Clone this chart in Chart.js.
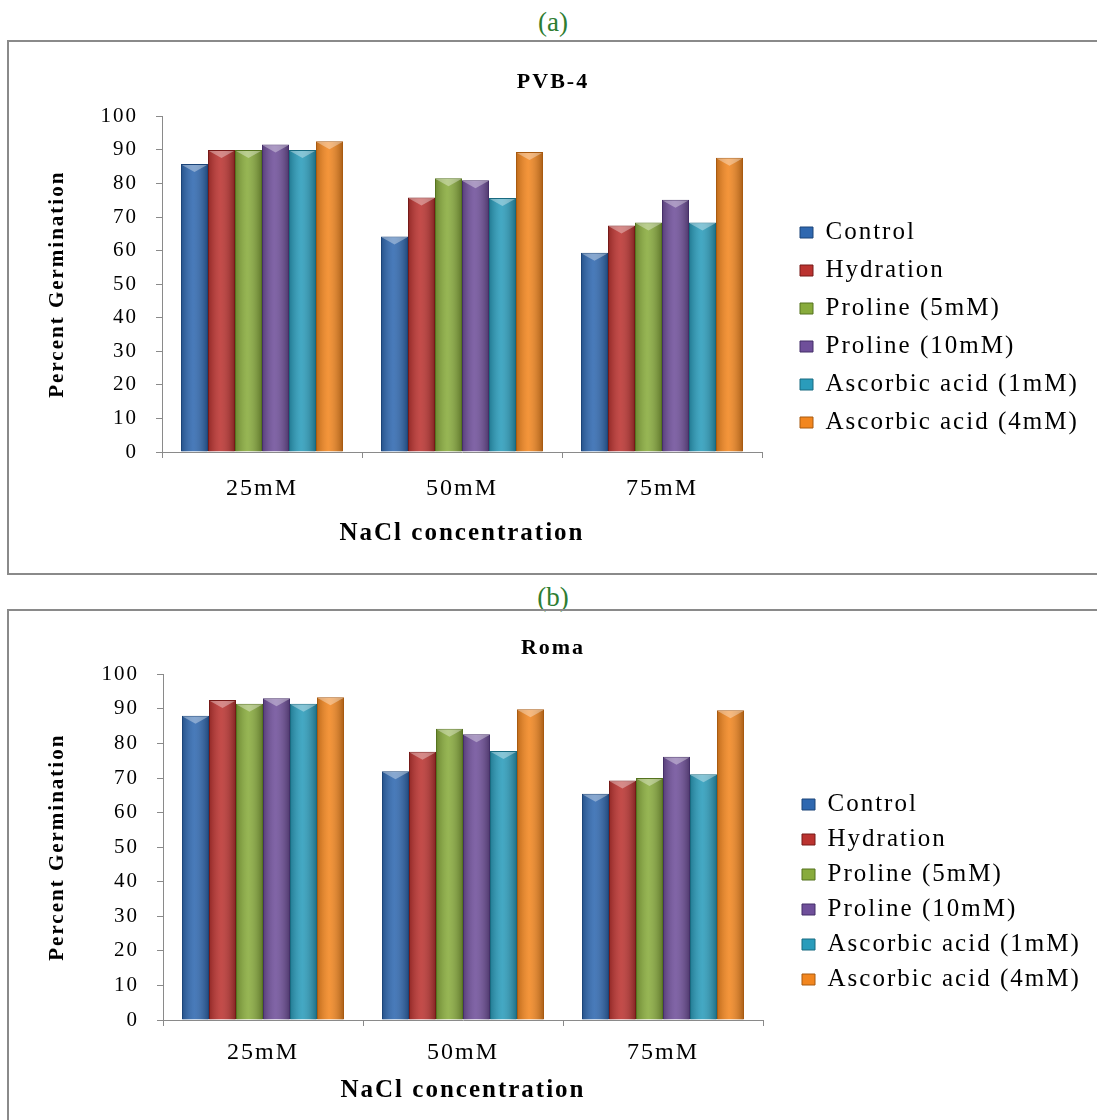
<!DOCTYPE html>
<html>
<head>
<meta charset="utf-8">
<script src="https://cdn.jsdelivr.net/npm/chart.js@4.4.1/dist/chart.umd.min.js"></script>
<style>
  html, body { margin: 0; padding: 0; background: #fff; overflow: hidden; }
  body { width: 1097px; height: 1120px; position: relative; font-family: 'Liberation Serif', serif; }
  .tag { position: absolute; left: 0; width: 1106px; text-align: center; color: #2e7d32; font-size: 27px; line-height: 30px; }
  .box { position: absolute; left: 7px; width: 1100px; border: 2px solid #8a8a8a; }
  .box canvas { display: block; }
</style>
</head>
<body>
<div class="tag" style="top:7px">(a)</div>
<div class="box" style="top:40px;height:531px"><canvas id="chartA" width="1088" height="531"></canvas></div>
<div class="tag" style="top:582px">(b)</div>
<div class="box" style="top:609px;height:540px"><canvas id="chartB" width="1088" height="540"></canvas></div>

<script>
// data
const categories = ['25mM', '50mM', '75mM'];
const treatments = ['Control', 'Hydration', 'Proline (5mM)', 'Proline (10mM)', 'Ascorbic acid (1mM)', 'Ascorbic acid (4mM)'];

// one row per treatment, one value per NaCl level
const pvb4Values = [
  [85.8, 64.2, 59.4],
  [90.0, 75.8, 67.5],
  [90.0, 81.6, 68.4],
  [91.6, 81.0, 75.2],
  [90.0, 75.7, 68.4],
  [92.6, 89.4, 87.7]
];
const romaValues = [
  [88.0, 72.0, 65.5],
  [92.6, 77.6, 69.3],
  [91.5, 84.3, 70.0],
  [93.1, 82.7, 76.2],
  [91.5, 77.8, 71.1],
  [93.4, 89.9, 89.6]
];

const yMin = 0, yMax = 100, yStep = 10;

const fillColors = ['#2f68b0', '#bb3330', '#88ab3c', '#6f4f9a', '#2a9cbb', '#f2861f'];
const edgeColors = ['#1c4478', '#761a18', '#55731f', '#452f68', '#186a80', '#a85a10'];

const serif = "'Liberation Serif', 'Times New Roman', serif";

// wider text spacing like the original picture
const spacing = {
  id: 'spacing',
  beforeLayout(chart) { chart.ctx.letterSpacing = '2px'; },
  beforeDraw(chart) { chart.ctx.letterSpacing = '2px'; }
};

// legend: fixed width and position
const legendPlace = {
  id: 'legendPlace',
  beforeLayout(chart, args, opts) {
    const lg = chart.legend;
    if (lg && !lg._fixed) {
      const fit = lg.fit.bind(lg);
      lg.fit = function () { fit(); this.width = opts.width; };
      lg._fixed = true;
    }
  },
  afterLayout(chart, args, opts) {
    chart.legend.left = opts.left;
    chart.legend.top = opts.top;
  }
};

// soft shading and a light bevel on top of each bar
const barShade = {
  id: 'barShade',
  afterDatasetsDraw(chart) {
    const ctx = chart.ctx;
    chart.data.datasets.forEach((ds, i) => {
      chart.getDatasetMeta(i).data.forEach(bar => {
        const { x, y, base, width } = bar.getProps(['x', 'y', 'base', 'width'], true);
        const left = x - width / 2;
        const g = ctx.createLinearGradient(left, 0, left + width, 0);
        g.addColorStop(0, 'rgba(0,0,0,0.22)');
        g.addColorStop(0.45, 'rgba(255,255,255,0.12)');
        g.addColorStop(1, 'rgba(0,0,0,0.30)');
        ctx.save();
        ctx.fillStyle = g;
        ctx.fillRect(left + 1, y + 1, width - 2, base - y - 1);
        ctx.fillStyle = 'rgba(255,255,255,0.35)';
        ctx.beginPath();
        ctx.moveTo(left + 1, y + 1);
        ctx.lineTo(left + width - 1, y + 1);
        ctx.lineTo(x, y + 8);
        ctx.closePath();
        ctx.fill();
        ctx.restore();
      });
    });
  }
};

function buildChart(id, title, values, geo) {
  const ctx = document.getElementById(id).getContext('2d');
  return new Chart(ctx, {
    type: 'bar',
    data: {
      labels: categories,
      datasets: treatments.map((name, i) => ({
        label: name,
        data: values[i],
        backgroundColor: fillColors[i],
        borderColor: edgeColors[i],
        borderWidth: 1,
        categoryPercentage: 0.81,
        barPercentage: 1.0
      }))
    },
    options: {
      responsive: false,
      animation: false,
      devicePixelRatio: 1,
      layout: { padding: { left: 0, right: 0, top: 0, bottom: 0 } },
      plugins: {
        tooltip: { enabled: false },
        title: {
          display: true,
          text: title,
          color: '#000',
          font: { family: serif, size: 22, weight: 'bold' },
          padding: { top: geo.titleTop, bottom: geo.titleBottom }
        },
        legend: {
          position: 'right',
          align: 'start',
          labels: {
            color: '#000',
            font: { family: serif, size: 25 },
            boxWidth: 13,
            boxHeight: 11,
            padding: geo.legendGap
          }
        },
        legendPlace: { width: geo.legendWidth, left: geo.legendLeft, top: geo.legendTop }
      },
      scales: {
        x: {
          grid: { drawOnChartArea: false, color: '#8a8a8a', tickLength: 6, offset: true },
          border: { display: true, color: '#8a8a8a' },
          ticks: { color: '#000', font: { family: serif, size: 24 }, padding: geo.xLabelPad },
          title: {
            display: true,
            text: 'NaCl concentration',
            color: '#000',
            font: { family: serif, size: 25, weight: 'bold' },
            padding: { top: 0, bottom: geo.xTitlePad }
          },
          afterFit(scale) { scale.height = geo.xHeight; }
        },
        y: {
          min: yMin,
          max: yMax,
          grid: { drawOnChartArea: false, color: '#8a8a8a', tickLength: 6 },
          border: { display: true, color: '#8a8a8a' },
          ticks: { stepSize: yStep, color: '#000', font: { family: serif, size: 21 }, padding: 18 },
          title: {
            display: true,
            text: 'Percent Germination',
            color: '#000',
            font: { family: serif, size: 21, weight: 'bold' },
            padding: { top: 36, bottom: 0 }
          },
          afterFit(scale) { scale.width = geo.yWidth; }
        }
      }
    },
    plugins: [spacing, legendPlace, barShade]
  });
}

buildChart('chartA', 'PVB-4', pvb4Values, {
  titleTop: 27, titleBottom: 21,
  xHeight: 121, xLabelPad: 16, xTitlePad: 24,
  yWidth: 153,
  legendWidth: 335, legendLeft: 778, legendTop: 165, legendGap: 13
});

buildChart('chartB', 'Roma', romaValues, {
  titleTop: 24, titleBottom: 13,
  xHeight: 131, xLabelPad: 12, xTitlePad: 45,
  yWidth: 154,
  legendWidth: 334, legendLeft: 783, legendTop: 171, legendGap: 10
});
</script>
</body>
</html>
